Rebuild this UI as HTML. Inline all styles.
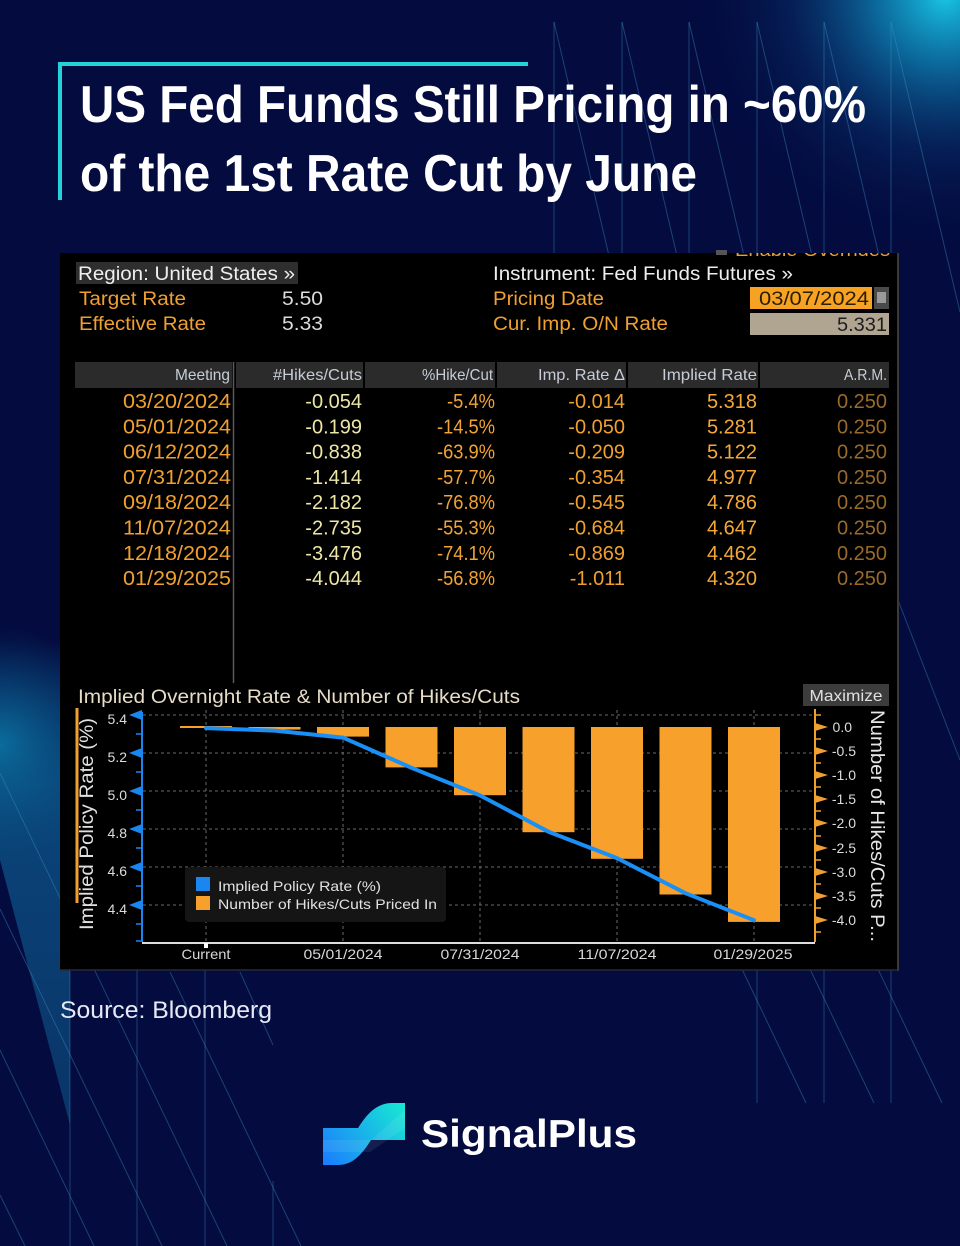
<!DOCTYPE html>
<html><head><meta charset="utf-8"><style>
html,body{margin:0;padding:0;background:#030b3f;}
svg{display:block;}
text{font-family:"Liberation Sans",sans-serif;}
</style></head><body>
<svg width="960" height="1246" viewBox="0 0 960 1246" xmlns="http://www.w3.org/2000/svg">
<defs>
<radialGradient id="gTR" cx="945" cy="-5" r="260" gradientUnits="userSpaceOnUse">
<stop offset="0" stop-color="#19c6e6" stop-opacity="1"/>
<stop offset="0.25" stop-color="#0f8fc0" stop-opacity="0.75"/>
<stop offset="0.6" stop-color="#0a4a88" stop-opacity="0.3"/>
<stop offset="1" stop-color="#030b3f" stop-opacity="0"/>
</radialGradient>
<radialGradient id="gL" cx="0" cy="745" r="120" gradientUnits="userSpaceOnUse">
<stop offset="0" stop-color="#0a6f9e" stop-opacity="0.95"/>
<stop offset="1" stop-color="#0a4a7c" stop-opacity="0"/>
</radialGradient>
<linearGradient id="gBand" x1="0" y1="640" x2="0" y2="1125" gradientUnits="userSpaceOnUse">
<stop offset="0" stop-color="#0b4f84" stop-opacity="0"/>
<stop offset="0.3" stop-color="#0b4f84" stop-opacity="0.85"/>
<stop offset="1" stop-color="#0b3f72" stop-opacity="0.8"/>
</linearGradient>
<linearGradient id="gLogo" x1="323" y1="1165" x2="405" y2="1103" gradientUnits="userSpaceOnUse">
<stop offset="0" stop-color="#1a7cff"/>
<stop offset="1" stop-color="#19ead2"/>
</linearGradient>
<clipPath id="cTop"><rect x="60" y="253" width="838" height="20"/></clipPath>
</defs>

<!-- background -->
<rect width="960" height="1246" fill="#030b3f"/>
<rect width="960" height="1246" fill="url(#gTR)"/>
<polygon points="0,640 70,640 70,1125 0,860" fill="url(#gBand)"/>
<rect x="0" y="600" width="140" height="300" fill="url(#gL)"/>

<!-- decorative lines -->
<g stroke="#3d8fc4" stroke-opacity="0.42" stroke-width="1" fill="none">
<line x1="554" y1="22" x2="554" y2="260"/>
<line x1="622" y1="22" x2="622" y2="260"/>
<line x1="689" y1="22" x2="689" y2="260"/>
<line x1="757" y1="22" x2="757" y2="1103"/>
<line x1="824" y1="22" x2="824" y2="1103"/>
<line x1="891" y1="22" x2="891" y2="1103"/>
<line x1="554" y1="22" x2="610" y2="260"/>
<line x1="622" y1="22" x2="678" y2="260"/>
<line x1="689" y1="22" x2="745" y2="260"/>
<line x1="757" y1="22" x2="813" y2="260"/>
<line x1="824" y1="22" x2="880" y2="260"/>
<line x1="891" y1="22" x2="960" y2="312"/>
<line x1="898" y1="600" x2="960" y2="760"/>
<line x1="740" y1="965" x2="806" y2="1103"/>
<line x1="808" y1="965" x2="874" y2="1103"/>
<line x1="876" y1="965" x2="942" y2="1103"/>
<line x1="70" y1="970" x2="70" y2="1246"/>
<line x1="137" y1="970" x2="137" y2="1246"/>
<line x1="205" y1="970" x2="205" y2="1246"/>
<line x1="273" y1="1181" x2="273" y2="1246"/>
<line x1="0" y1="773" x2="227" y2="1246"/>
<line x1="0" y1="909" x2="162" y2="1246"/>
<line x1="0" y1="1050" x2="94" y2="1246"/>
<line x1="0" y1="1195" x2="25" y2="1246"/>
<line x1="170" y1="972" x2="301" y2="1246"/>
<line x1="240" y1="972" x2="273" y2="1045"/>
</g>

<!-- title -->
<rect x="58" y="62" width="470" height="4" fill="#22d3dc"/>
<rect x="58" y="62" width="4" height="138" fill="#22d3dc"/>
<text x="80" y="122" font-size="52" font-weight="bold" fill="#ffffff" textLength="786" lengthAdjust="spacingAndGlyphs">US Fed Funds Still Pricing in ~60%</text>
<text x="80" y="191" font-size="52" font-weight="bold" fill="#ffffff" textLength="617" lengthAdjust="spacingAndGlyphs">of the 1st Rate Cut by June</text>

<!-- panel -->
<rect x="60" y="253" width="838" height="717" fill="#000"/>
<line x1="898" y1="253" x2="898" y2="971" stroke="#3a3a3a" stroke-width="2"/>
<line x1="60" y1="970" x2="898" y2="970" stroke="#2a2a3a" stroke-width="1.5"/>
<rect x="716" y="250" width="11" height="5" fill="#555"/>
<text x="735" y="256" font-size="18" fill="#f0a030" textLength="155" lengthAdjust="spacingAndGlyphs" clip-path="url(#cTop)">Enable Overrides</text>

<!-- info area -->
<rect x="76" y="262" width="222" height="22" fill="#2e2e2e"/>
<text x="78" y="280" font-size="19" fill="#eeeeee" textLength="217" lengthAdjust="spacingAndGlyphs">Region: United States »</text>
<text x="79" y="305" font-size="19" fill="#f0a030" textLength="107" lengthAdjust="spacingAndGlyphs">Target Rate</text>
<text x="282" y="305" font-size="19" fill="#dcdcdc" textLength="41" lengthAdjust="spacingAndGlyphs">5.50</text>
<text x="79" y="330" font-size="19" fill="#f0a030" textLength="127" lengthAdjust="spacingAndGlyphs">Effective Rate</text>
<text x="282" y="330" font-size="19" fill="#dcdcdc" textLength="41" lengthAdjust="spacingAndGlyphs">5.33</text>
<text x="493" y="280" font-size="19" fill="#eeeeee" textLength="300" lengthAdjust="spacingAndGlyphs">Instrument: Fed Funds Futures »</text>
<text x="493" y="305" font-size="19" fill="#f0a030" textLength="111" lengthAdjust="spacingAndGlyphs">Pricing Date</text>
<text x="493" y="330" font-size="19" fill="#f0a030" textLength="175" lengthAdjust="spacingAndGlyphs">Cur. Imp. O/N Rate</text>
<rect x="750" y="287" width="122" height="22" fill="#f7a223"/>
<text x="869" y="305" font-size="19" fill="#2a1e00" text-anchor="end" textLength="110" lengthAdjust="spacingAndGlyphs">03/07/2024</text>
<rect x="874" y="287" width="15" height="22" fill="#4a4a4a"/>
<rect x="877" y="292" width="9" height="11" fill="#9a9a9a"/>
<rect x="750" y="313" width="139" height="22" fill="#b0a591"/>
<text x="887" y="331" font-size="19" fill="#1e1e1e" text-anchor="end" textLength="50" lengthAdjust="spacingAndGlyphs">5.331</text>

<!-- table header -->
<rect x="75" y="362" width="157" height="26" fill="#2b2b2b"/>
<rect x="236" y="362" width="127" height="26" fill="#2b2b2b"/>
<rect x="365" y="362" width="130" height="26" fill="#2b2b2b"/>
<rect x="497" y="362" width="129" height="26" fill="#2b2b2b"/>
<rect x="628" y="362" width="130" height="26" fill="#2b2b2b"/>
<rect x="760" y="362" width="129" height="26" fill="#2b2b2b"/>
<g font-size="16" fill="#c6cdd8" text-anchor="end">
<text x="230" y="380" textLength="55" lengthAdjust="spacingAndGlyphs">Meeting</text>
<text x="362" y="380" textLength="89" lengthAdjust="spacingAndGlyphs">#Hikes/Cuts</text>
<text x="493" y="380" textLength="71" lengthAdjust="spacingAndGlyphs">%Hike/Cut</text>
<text x="625" y="380" textLength="87" lengthAdjust="spacingAndGlyphs">Imp. Rate Δ</text>
<text x="757" y="380" textLength="95" lengthAdjust="spacingAndGlyphs">Implied Rate</text>
<text x="887" y="380" textLength="43" lengthAdjust="spacingAndGlyphs">A.R.M.</text>
</g>
<line x1="233.5" y1="362" x2="233.5" y2="683" stroke="#5a5a5a" stroke-width="1.5"/>

<!-- table rows -->
<g font-size="20" text-anchor="end">
<g fill="#f0a030">
<text x="231" y="408" textLength="108" lengthAdjust="spacingAndGlyphs">03/20/2024</text>
<text x="231" y="433.3" textLength="108" lengthAdjust="spacingAndGlyphs">05/01/2024</text>
<text x="231" y="458.6" textLength="108" lengthAdjust="spacingAndGlyphs">06/12/2024</text>
<text x="231" y="483.9" textLength="108" lengthAdjust="spacingAndGlyphs">07/31/2024</text>
<text x="231" y="509.2" textLength="108" lengthAdjust="spacingAndGlyphs">09/18/2024</text>
<text x="231" y="534.5" textLength="108" lengthAdjust="spacingAndGlyphs">11/07/2024</text>
<text x="231" y="559.8" textLength="108" lengthAdjust="spacingAndGlyphs">12/18/2024</text>
<text x="231" y="585.1" textLength="108" lengthAdjust="spacingAndGlyphs">01/29/2025</text>
</g>
<g fill="#ede7a6">
<text x="362" y="408">-0.054</text>
<text x="362" y="433.3">-0.199</text>
<text x="362" y="458.6">-0.838</text>
<text x="362" y="483.9">-1.414</text>
<text x="362" y="509.2">-2.182</text>
<text x="362" y="534.5">-2.735</text>
<text x="362" y="559.8">-3.476</text>
<text x="362" y="585.1">-4.044</text>
</g>
<g fill="#f2a336">
<text x="495" y="408" textLength="48" lengthAdjust="spacingAndGlyphs">-5.4%</text>
<text x="495" y="433.3" textLength="58" lengthAdjust="spacingAndGlyphs">-14.5%</text>
<text x="495" y="458.6" textLength="58" lengthAdjust="spacingAndGlyphs">-63.9%</text>
<text x="495" y="483.9" textLength="58" lengthAdjust="spacingAndGlyphs">-57.7%</text>
<text x="495" y="509.2" textLength="58" lengthAdjust="spacingAndGlyphs">-76.8%</text>
<text x="495" y="534.5" textLength="58" lengthAdjust="spacingAndGlyphs">-55.3%</text>
<text x="495" y="559.8" textLength="58" lengthAdjust="spacingAndGlyphs">-74.1%</text>
<text x="495" y="585.1" textLength="58" lengthAdjust="spacingAndGlyphs">-56.8%</text>
</g>
<g fill="#f0a030">
<text x="625" y="408">-0.014</text>
<text x="625" y="433.3">-0.050</text>
<text x="625" y="458.6">-0.209</text>
<text x="625" y="483.9">-0.354</text>
<text x="625" y="509.2">-0.545</text>
<text x="625" y="534.5">-0.684</text>
<text x="625" y="559.8">-0.869</text>
<text x="625" y="585.1">-1.011</text>
</g>
<g fill="#f5a838">
<text x="757" y="408">5.318</text>
<text x="757" y="433.3">5.281</text>
<text x="757" y="458.6">5.122</text>
<text x="757" y="483.9">4.977</text>
<text x="757" y="509.2">4.786</text>
<text x="757" y="534.5">4.647</text>
<text x="757" y="559.8">4.462</text>
<text x="757" y="585.1">4.320</text>
</g>
<g fill="#9a6a2a">
<text x="887" y="408">0.250</text>
<text x="887" y="433.3">0.250</text>
<text x="887" y="458.6">0.250</text>
<text x="887" y="483.9">0.250</text>
<text x="887" y="509.2">0.250</text>
<text x="887" y="534.5">0.250</text>
<text x="887" y="559.8">0.250</text>
<text x="887" y="585.1">0.250</text>
</g>
</g>

<!-- chart title -->
<text x="78" y="703" font-size="19" fill="#e6dcc8" textLength="442" lengthAdjust="spacingAndGlyphs">Implied Overnight Rate &amp; Number of Hikes/Cuts</text>
<rect x="803" y="684" width="86" height="22" fill="#3c3c3c"/>
<text x="846" y="701" font-size="16" fill="#e0e0e0" text-anchor="middle" textLength="73" lengthAdjust="spacingAndGlyphs">Maximize</text>

<!-- grid -->
<g stroke="#6a6a6a" stroke-width="1" stroke-dasharray="3,3">
<line x1="143" y1="715" x2="815" y2="715"/>
<line x1="143" y1="753" x2="815" y2="753"/>
<line x1="143" y1="791" x2="815" y2="791"/>
<line x1="143" y1="829" x2="815" y2="829"/>
<line x1="143" y1="867" x2="815" y2="867"/>
<line x1="143" y1="905" x2="815" y2="905"/>
<line x1="206" y1="710" x2="206" y2="942"/>
<line x1="343" y1="710" x2="343" y2="942"/>
<line x1="480" y1="710" x2="480" y2="942"/>
<line x1="617" y1="710" x2="617" y2="942"/>
<line x1="754" y1="710" x2="754" y2="942"/>
</g>

<!-- bars -->
<g fill="#f7a02b">
<rect x="180" y="726" width="52" height="2"/>
<rect x="248.5" y="727" width="52" height="2.6"/>
<rect x="317" y="727" width="52" height="9.6"/>
<rect x="385.5" y="727" width="52" height="40.4"/>
<rect x="454" y="727" width="52" height="68.2"/>
<rect x="522.5" y="727" width="52" height="105.2"/>
<rect x="591" y="727" width="52" height="131.8"/>
<rect x="659.5" y="727" width="52" height="167.5"/>
<rect x="728" y="727" width="52" height="194.9"/>
</g>

<!-- line -->
<polyline points="206,728.1 274.5,730.6 343,737.6 411.5,767.8 480,795.4 548.5,831.7 617,858.1 685.5,893.2 754,920.2" fill="none" stroke="#1a8ff5" stroke-width="4" stroke-linejoin="round" stroke-linecap="round"/>

<!-- legend -->
<rect x="185" y="867" width="261" height="55" rx="4" fill="#151515"/>
<rect x="196" y="877" width="14" height="14" fill="#1a86f0"/>
<rect x="196" y="896" width="14" height="14" fill="#f7a02b"/>
<text x="218" y="891" font-size="14" fill="#e2e2e2" textLength="163" lengthAdjust="spacingAndGlyphs">Implied Policy Rate (%)</text>
<text x="218" y="909" font-size="14" fill="#e2e2e2" textLength="219" lengthAdjust="spacingAndGlyphs">Number of Hikes/Cuts Priced In</text>

<!-- left axis -->
<line x1="142" y1="712" x2="142" y2="942" stroke="#1a86f0" stroke-width="2"/>
<g fill="#1a86f0">
<polygon points="129,715 142,710 142,720"/>
<polygon points="129,753 142,748 142,758"/>
<polygon points="129,791 142,786 142,796"/>
<polygon points="129,829 142,824 142,834"/>
<polygon points="129,867 142,862 142,872"/>
<polygon points="129,905 142,900 142,910"/>
</g>
<g stroke="#1a86f0" stroke-width="1.5">
<line x1="136" y1="734" x2="142" y2="734"/>
<line x1="136" y1="772" x2="142" y2="772"/>
<line x1="136" y1="810" x2="142" y2="810"/>
<line x1="136" y1="848" x2="142" y2="848"/>
<line x1="136" y1="886" x2="142" y2="886"/>
<line x1="136" y1="924" x2="142" y2="924"/>
<line x1="136" y1="941" x2="142" y2="941"/>
</g>
<g font-size="14" fill="#dcdcdc" text-anchor="end">
<text x="127" y="724">5.4</text>
<text x="127" y="762">5.2</text>
<text x="127" y="800">5.0</text>
<text x="127" y="838">4.8</text>
<text x="127" y="876">4.6</text>
<text x="127" y="914">4.4</text>
</g>
<rect x="75.5" y="708" width="3" height="195" fill="#f0a030"/>
<text transform="translate(93,824) rotate(-90)" text-anchor="middle" font-size="19" fill="#e0e0e0" textLength="212" lengthAdjust="spacingAndGlyphs">Implied Policy Rate (%)</text>

<!-- right axis -->
<line x1="815" y1="709" x2="815" y2="942" stroke="#f0a030" stroke-width="2"/>
<g fill="#f0a030">
<polygon points="815,723 828,727 815,731"/>
<polygon points="815,747 828,751 815,755"/>
<polygon points="815,771 828,775 815,779"/>
<polygon points="815,795 828,799 815,803"/>
<polygon points="815,819 828,823 815,827"/>
<polygon points="815,844 828,848 815,852"/>
<polygon points="815,868 828,872 815,876"/>
<polygon points="815,892 828,896 815,900"/>
<polygon points="815,916 828,920 815,924"/>
</g>
<g stroke="#f0a030" stroke-width="1.5">
<line x1="815" y1="715" x2="821" y2="715"/>
<line x1="815" y1="739" x2="821" y2="739"/>
<line x1="815" y1="763" x2="821" y2="763"/>
<line x1="815" y1="787" x2="821" y2="787"/>
<line x1="815" y1="811" x2="821" y2="811"/>
<line x1="815" y1="836" x2="821" y2="836"/>
<line x1="815" y1="860" x2="821" y2="860"/>
<line x1="815" y1="884" x2="821" y2="884"/>
<line x1="815" y1="908" x2="821" y2="908"/>
<line x1="815" y1="932" x2="821" y2="932"/>
</g>
<g font-size="14" fill="#dcdcdc" text-anchor="end">
<text x="852" y="732">0.0</text>
<text x="856" y="756">-0.5</text>
<text x="856" y="780">-1.0</text>
<text x="856" y="804">-1.5</text>
<text x="856" y="828">-2.0</text>
<text x="856" y="853">-2.5</text>
<text x="856" y="877">-3.0</text>
<text x="856" y="901">-3.5</text>
<text x="856" y="925">-4.0</text>
</g>
<text transform="translate(871,826) rotate(90)" text-anchor="middle" font-size="19" fill="#e6e6e6" textLength="232" lengthAdjust="spacingAndGlyphs">Number of Hikes/Cuts P...</text>

<!-- x axis -->
<line x1="142" y1="943" x2="815" y2="943" stroke="#dddddd" stroke-width="2"/>
<rect x="204" y="943" width="4" height="5" fill="#ffffff"/>
<g font-size="14" fill="#d8d8d8" text-anchor="middle">
<text x="206" y="959" textLength="49" lengthAdjust="spacingAndGlyphs">Current</text>
<text x="343" y="959" textLength="79" lengthAdjust="spacingAndGlyphs">05/01/2024</text>
<text x="480" y="959" textLength="79" lengthAdjust="spacingAndGlyphs">07/31/2024</text>
<text x="617" y="959" textLength="79" lengthAdjust="spacingAndGlyphs">11/07/2024</text>
<text x="753" y="959" textLength="79" lengthAdjust="spacingAndGlyphs">01/29/2025</text>
</g>

<!-- source -->
<text x="60" y="1018" font-size="24" fill="#e6eaf6" textLength="212" lengthAdjust="spacingAndGlyphs">Source: Bloomberg</text>

<!-- logo -->
<path d="M323,1128 L358,1128 C368,1112 378,1103 392,1103 L405,1103 L405,1140 L371,1140 C361,1156 352,1165 338,1165 L323,1165 Z" fill="url(#gLogo)"/>
<path d="M323,1140 L371,1140 L405,1110 L405,1128 L370,1152 L323,1152 Z" fill="#ffffff" fill-opacity="0.08"/>
<text x="421" y="1147" font-size="39" font-weight="bold" fill="#ffffff" textLength="216" lengthAdjust="spacingAndGlyphs">SignalPlus</text>
</svg>
</body></html>
